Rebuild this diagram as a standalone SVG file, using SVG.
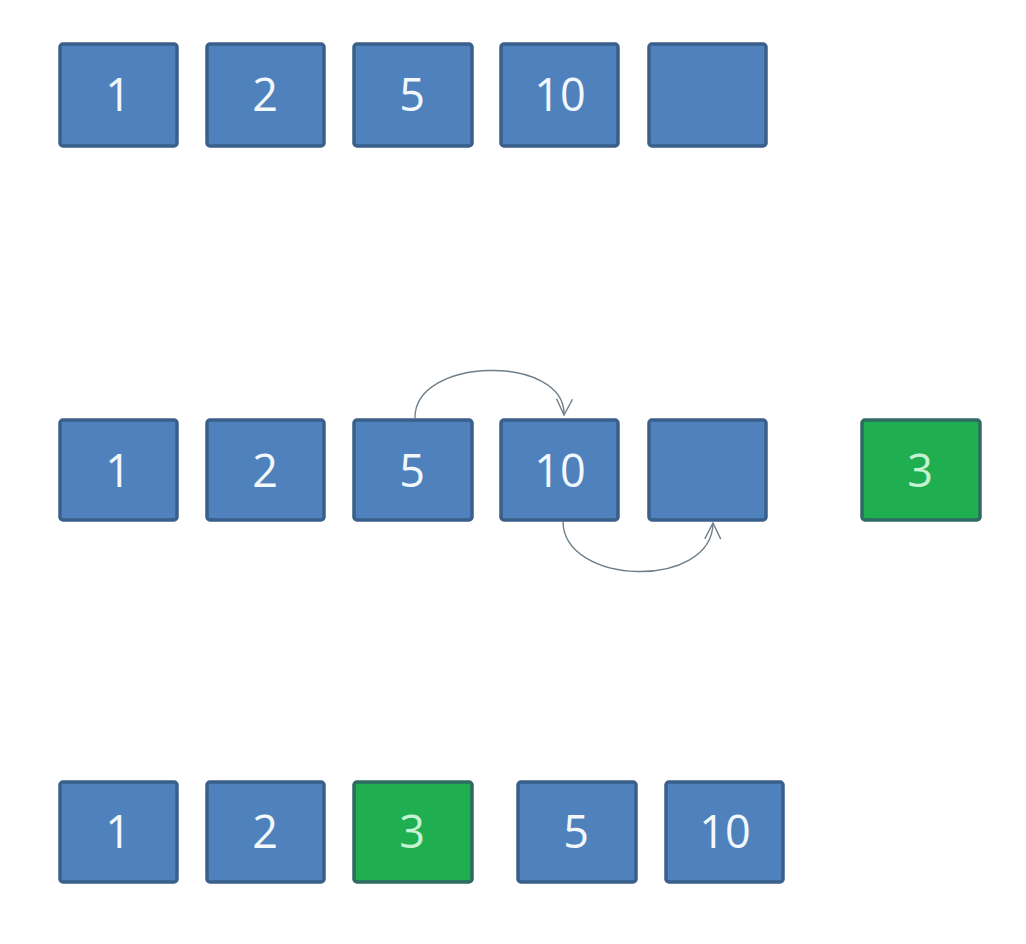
<svg xmlns="http://www.w3.org/2000/svg" width="1026" height="944" viewBox="0 0 1026 944">
<defs>
<style>
.b{fill:#4f81bd;stroke:#3a5f8b;stroke-width:3.5}
.g{fill:#1fae50;stroke:#2f6b62;stroke-width:3.5}
.t{font-family:"Open Sans","Noto Sans",sans-serif;font-size:45px;fill:#f2f8fc;text-anchor:middle}
.tg{font-family:"Open Sans","Noto Sans",sans-serif;font-size:45px;fill:#c6f2d2;text-anchor:middle}
.c{fill:none;stroke:#6f7f8a;stroke-width:1.4}
</style>
<marker id="ah" markerUnits="userSpaceOnUse" markerWidth="20" markerHeight="20" refX="17" refY="9" orient="auto" viewBox="0 0 20 18">
<path d="M1,1 L17,9 L1,17" fill="none" stroke="#6f7f8a" stroke-width="1.4"/>
</marker>
</defs>
<rect width="1026" height="944" fill="#ffffff"/>
<g id="row1">
<g id="r1n1"><rect class="b" x="60" y="44" width="117" height="102" rx="3"/><text class="t" x="118" y="111">1</text></g>
<g id="r1n2"><rect class="b" x="207" y="44" width="117" height="102" rx="3"/><text class="t" x="265" y="111">2</text></g>
<g id="r1n3"><rect class="b" x="354" y="44" width="118" height="102" rx="3"/><text class="t" x="412" y="111">5</text></g>
<g id="r1n4"><rect class="b" x="501" y="44" width="117" height="102" rx="3"/><text class="t" x="560" y="111">10</text></g>
<g id="r1n5"><rect class="b" x="649" y="44" width="117" height="102" rx="3"/></g>
</g>
<g id="row2">
<g id="r2n1"><rect class="b" x="60" y="420" width="117" height="100" rx="3"/><text class="t" x="118" y="487">1</text></g>
<g id="r2n2"><rect class="b" x="207" y="420" width="117" height="100" rx="3"/><text class="t" x="265" y="487">2</text></g>
<g id="r2n3"><rect class="b" x="354" y="420" width="118" height="100" rx="3"/><text class="t" x="412" y="487">5</text></g>
<g id="r2n4"><rect class="b" x="501" y="420" width="117" height="100" rx="3"/><text class="t" x="560" y="487">10</text></g>
<g id="r2n5"><rect class="b" x="649" y="420" width="117" height="100" rx="3"/></g>
<g id="r2n6"><rect class="g" x="862" y="420" width="118" height="100" rx="3"/><text class="tg" x="920" y="487">3</text></g>
</g>
<g id="row3">
<g id="r3n1"><rect class="b" x="60" y="782" width="117" height="100" rx="3"/><text class="t" x="118" y="848">1</text></g>
<g id="r3n2"><rect class="b" x="207" y="782" width="117" height="100" rx="3"/><text class="t" x="265" y="848">2</text></g>
<g id="r3n3"><rect class="g" x="354" y="782" width="118" height="100" rx="3"/><text class="tg" x="412" y="848">3</text></g>
<g id="r3n4"><rect class="b" x="518" y="782" width="118" height="100" rx="3"/><text class="t" x="576" y="848">5</text></g>
<g id="r3n5"><rect class="b" x="666" y="782" width="117" height="100" rx="3"/><text class="t" x="725" y="848">10</text></g>
</g>
<g id="connectors">
<path class="c" d="M415,419 C413,356 566,354 564,415" marker-end="url(#ah)"/>
<path class="c" d="M563,521 C563,586 712,590 713,523" marker-end="url(#ah)"/>
</g>
</svg>
